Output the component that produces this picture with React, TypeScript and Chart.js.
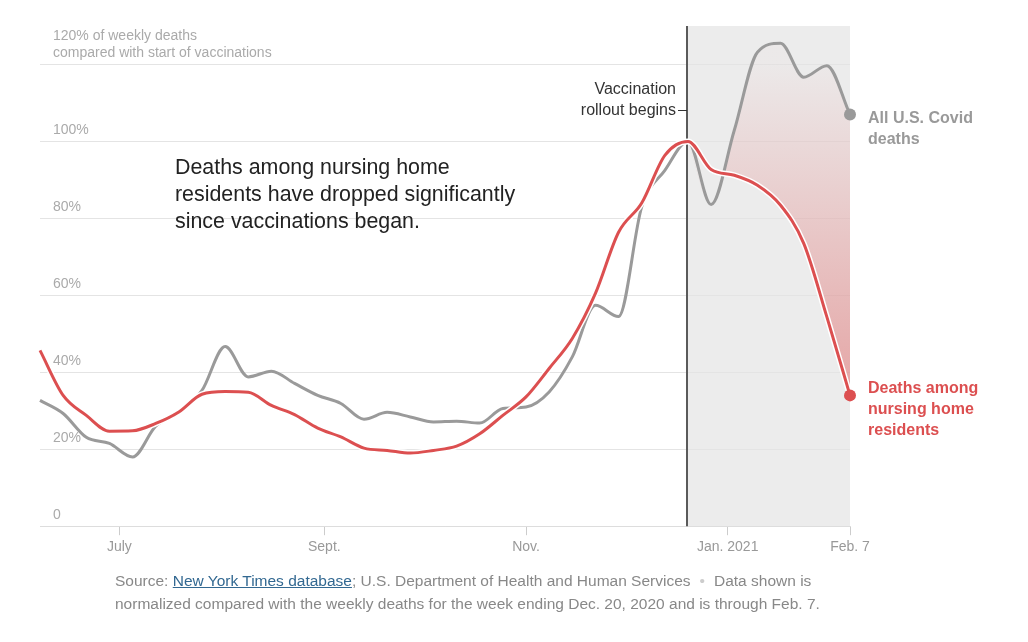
import React, { useEffect, useRef } from "react";
import { Chart, registerables } from "chart.js";

Chart.register(...registerables);

// ---- Data ----
const weekEnding = [
  "2020-06-07", "2020-06-14", "2020-06-21", "2020-06-28",
  "2020-07-05", "2020-07-12", "2020-07-19", "2020-07-26",
  "2020-08-02", "2020-08-09", "2020-08-16", "2020-08-23", "2020-08-30",
  "2020-09-06", "2020-09-13", "2020-09-20", "2020-09-27",
  "2020-10-04", "2020-10-11", "2020-10-18", "2020-10-25",
  "2020-11-01", "2020-11-08", "2020-11-15", "2020-11-22", "2020-11-29",
  "2020-12-06", "2020-12-13", "2020-12-20", "2020-12-27",
  "2021-01-03", "2021-01-10", "2021-01-17", "2021-01-24", "2021-01-31",
  "2021-02-07",
];

const nursingHome = [
  45.7, 34, 28.8, 24.7, 24.8, 26.7, 29.7, 34.3, 35, 34.8, 31.4, 29,
  25.5, 23.2, 20.3, 19.7, 19, 19.7, 20.8, 24, 28.8, 33.6, 41, 48.8,
  60.5, 76.4, 84, 96.4, 100, 92.7, 91.2, 88.6, 83.4, 73.5, 54.4, 34,
];

const allCovid = [
  32.7, 29.3, 23.1, 21.5, 18, 26, 29.5, 35.3, 46.7, 38.8, 40.3, 37.1,
  34, 31.9, 27.8, 29.6, 28.4, 27.1, 27.3, 26.8, 30.6, 31, 34.9, 44,
  57.4, 54.5, 83, 92.5, 100, 83.6, 102.9, 123.2, 125.5, 116.7, 119.7, 107,
];

const rolloutWeek = "2020-12-20";

const xTickDates = ["2020-07-01", "2020-09-01", "2020-11-01", "2021-01-01", "2021-02-07"];
const xTickLabels = ["July", "Sept.", "Nov.", "Jan. 2021", "Feb. 7"];

const yTickValues = [0, 20, 40, 60, 80, 100, 120];
const yTickLabels: (string | string[])[] = [
  "0", "20%", "40%", "60%", "80%", "100%",
  ["120% of weekly deaths", "compared with start of vaccinations", ""],
];

// ---- helpers ----
const DAY = 86400000;
const t0 = Date.parse(weekEnding[0]);
const dayOf = (d: string) => (Date.parse(d) - t0) / DAY;
const toPoints = (vals: number[]) => vals.map((v, i) => ({ x: dayOf(weekEnding[i]), y: v }));
const rolloutIdx = weekEnding.indexOf(rolloutWeek);

const RED = "#dc4f50";
const GRAY = "#9a9a9a";
const FONT = '"Liberation Sans", Arial, Helvetica, sans-serif';

const shadePlugin = {
  id: "shade",
  beforeDraw(chart: any) {
    const { ctx, chartArea: ca, scales } = chart;
    const xr = scales.x.getPixelForValue(dayOf(rolloutWeek));
    ctx.save();
    ctx.fillStyle = "#ececec";
    ctx.fillRect(xr, ca.top, ca.right - xr, ca.bottom - ca.top);
    ctx.restore();
  },
  beforeDatasetsDraw(chart: any) {
    const { ctx, chartArea: ca, scales } = chart;
    const xr = Math.round(scales.x.getPixelForValue(dayOf(rolloutWeek)));
    ctx.save();
    ctx.strokeStyle = "#5a5a5a";
    ctx.lineWidth = 2;
    ctx.beginPath();
    ctx.moveTo(xr - 1, ca.top);
    ctx.lineTo(xr - 1, ca.bottom);
    ctx.stroke();
    ctx.restore();
  },
};

function ChartView() {
  const ref = useRef<HTMLCanvasElement | null>(null);
  useEffect(() => {
    if (!ref.current) return;
    const redPts = toPoints(nursingHome);
    const grayPts = toPoints(allCovid);
    const lastIdx = weekEnding.length - 1;
    const dotRadius = (r: number) => weekEnding.map((_, i) => (i === lastIdx ? r : 0));

    const chart = new Chart(ref.current, {
      type: "line",
      data: {
        datasets: [
          {
            label: "Deaths among nursing home residents",
            data: redPts,
            borderColor: RED,
            backgroundColor: RED,
            borderWidth: 3,
            pointRadius: dotRadius(6),
            pointBackgroundColor: RED,
            pointBorderWidth: 0,
            pointHoverRadius: 0,
            cubicInterpolationMode: "monotone",
            fill: false,
            clip: false as any,
          },
          {
            label: "outline",
            data: redPts,
            borderColor: "#ffffff",
            borderWidth: 6,
            pointRadius: 0,
            cubicInterpolationMode: "monotone",
            fill: false,
          },
          {
            label: "All U.S. Covid deaths",
            data: grayPts,
            borderColor: GRAY,
            backgroundColor: GRAY,
            borderWidth: 3,
            pointRadius: dotRadius(6),
            pointBackgroundColor: GRAY,
            pointBorderWidth: 0,
            pointHoverRadius: 0,
            cubicInterpolationMode: "monotone",
            fill: false,
            clip: false as any,
          },
          {
            label: "tailRed",
            data: redPts.slice(rolloutIdx),
            borderWidth: 0,
            borderColor: "rgba(0,0,0,0)",
            pointRadius: 0,
            cubicInterpolationMode: "monotone",
            fill: { target: 4, above: "rgba(0,0,0,0)" } as any,
            backgroundColor: (c: any) => {
              const ch = c.chart;
              if (!ch.chartArea || !ch.scales.y) return "rgba(220,80,80,0.2)";
              const y = ch.scales.y;
              const g = ch.ctx.createLinearGradient(0, y.getPixelForValue(120), 0, y.getPixelForValue(34));
              g.addColorStop(0, "rgba(220,80,80,0.02)");
              g.addColorStop(1, "rgba(220,80,80,0.45)");
              return g;
            },
          },
          {
            label: "tailGray",
            data: grayPts.slice(rolloutIdx),
            borderWidth: 0,
            borderColor: "rgba(0,0,0,0)",
            pointRadius: 0,
            cubicInterpolationMode: "monotone",
            fill: false,
          },
        ],
      },
      options: {
        responsive: false,
        animation: false,
        devicePixelRatio: 1,
        events: [],
        layout: { padding: { left: 40, right: 178, top: 26, bottom: 82 } },
        plugins: { legend: { display: false }, tooltip: { enabled: false } },
        font: { family: FONT },
        scales: {
          x: {
            type: "linear",
            min: 0,
            max: dayOf(weekEnding[weekEnding.length - 1]),
            afterBuildTicks: (s: any) => {
              s.ticks = xTickDates.map((d) => ({ value: dayOf(d) }));
            },
            ticks: {
              autoSkip: false,
              maxRotation: 0,
              padding: 4,
              color: "#999",
              font: { family: FONT, size: 14 },
              callback: (v: any) => {
                const i = xTickDates.findIndex((d) => dayOf(d) === v);
                return i >= 0 ? xTickLabels[i] : "";
              },
            },
            grid: { drawOnChartArea: false, drawTicks: true, tickLength: 9, color: "#cccccc" },
            border: { color: "#dddddd", width: 1 },
          },
          y: {
            min: 0,
            max: 130,
            afterBuildTicks: (s: any) => {
              s.ticks = yTickValues.map((v) => ({ value: v }));
            },
            afterFit: (s: any) => {
              s.width = 0;
              s.paddingTop = 0;
              s.paddingBottom = 0;
            },
            ticks: {
              mirror: true,
              padding: 13,
              labelOffset: -11,
              color: "#aaaaaa",
              font: { family: FONT, size: 14, lineHeight: 17 / 14 },
              callback: (v: any) => {
                const i = yTickValues.indexOf(v);
                return i >= 0 ? yTickLabels[i] : "";
              },
            },
            grid: { color: "#e4e4e4", drawTicks: false },
            border: { display: false },
          },
        },
      } as any,
      plugins: [shadePlugin],
    });
    return () => chart.destroy();
  }, []);
  return (
    <canvas
      ref={ref}
      width={1028}
      height={642}
      style={{ position: "absolute", left: 0, top: 0, width: 1028, height: 642 }}
    />
  );
}

export default function App() {
  const abs = (o: React.CSSProperties): React.CSSProperties => ({ position: "absolute", ...o });
  return (
    <div style={abs({ left: 0, top: 0, width: 1028, height: 642, background: "#fff", fontFamily: FONT, overflow: "hidden" })}>
      <ChartView />
      <div style={abs({ left: 175, top: 154, fontSize: 21.4, lineHeight: "27px", color: "#222", whiteSpace: "nowrap" })}>
        Deaths among nursing home<br />residents have dropped significantly<br />since vaccinations began.
      </div>
      <div style={abs({ right: 1028 - 687, top: 78, fontSize: 16, lineHeight: "21px", color: "#333", textAlign: "right", whiteSpace: "nowrap" })}>
        Vaccination<span style={{ display: "inline-block", width: 11 }} />
        <br />
        rollout begins
        <span style={{ display: "inline-block", width: 9, marginLeft: 2, borderTop: "1.5px solid #333", verticalAlign: "middle" }} />
      </div>
      <div style={abs({ left: 868, top: 107, fontSize: 16, lineHeight: "21px", color: "#999", fontWeight: "bold", whiteSpace: "nowrap" })}>
        All U.S. Covid<br />deaths
      </div>
      <div style={abs({ left: 868, top: 377, fontSize: 16, lineHeight: "21px", color: RED, fontWeight: "bold", whiteSpace: "nowrap" })}>
        Deaths among<br />nursing home<br />residents
      </div>
      <div style={abs({ left: 115, top: 569, fontSize: 15.5, lineHeight: "23px", color: "#888", whiteSpace: "nowrap" })}>
        Source: <span style={{ color: "#326891", textDecoration: "underline" }}>New York Times database</span>; U.S. Department of Health and Human Services
        <span style={{ color: "#ccc", margin: "0 9px" }}>•</span>
        Data shown is
        <br />
        normalized compared with the weekly deaths for the week ending Dec. 20, 2020 and is through Feb. 7.
      </div>
    </div>
  );
}
